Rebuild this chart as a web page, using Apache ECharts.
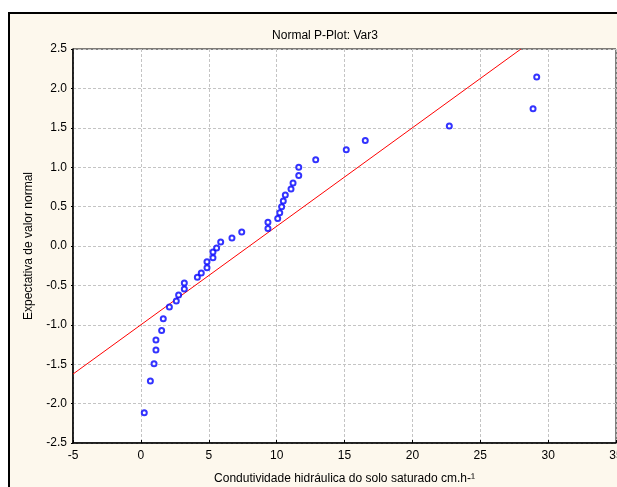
<!DOCTYPE html>
<html>
<head>
<meta charset="utf-8">
<script src="https://cdn.jsdelivr.net/npm/echarts@6/dist/echarts.min.js"></script>
<style>
  html, body { margin: 0; padding: 0; background: #ffffff; }
  #chart { width: 617px; height: 487px; }
</style>
</head>
<body>
<div id="chart"></div>
<script>
// ---- data ----
const titleText = "Normal P-Plot: Var3";
const xAxisName = "Condutividade hidráulica do solo saturado cm.h-¹";
const yAxisName = "Expectativa de valor normal";

// observed values (x) and expected normal values (y)
const obsX = [0.25, 0.70, 0.97, 1.11, 1.11, 1.53, 1.65, 2.10, 2.61, 2.78, 3.20, 3.20,
              4.16, 4.45, 4.87, 4.87, 5.31, 5.31, 5.58, 5.88, 6.71, 7.43,
              9.36, 9.36,
              10.08, 10.23, 10.37, 10.49, 10.64, 11.06, 11.21, 11.63, 11.63,
              12.88, 15.13, 16.53, 22.72, 28.89, 29.16];
const expY = [-2.115, -1.713, -1.494, -1.320, -1.193, -1.071, -0.923, -0.774, -0.698, -0.622, -0.546, -0.469,
              -0.398, -0.343, -0.275, -0.199, -0.148, -0.076, -0.025, 0.051, 0.102, 0.178,
              0.223, 0.300,
              0.350, 0.423, 0.499, 0.571, 0.647, 0.723, 0.799, 0.896, 0.998,
              1.095, 1.222, 1.340, 1.523, 1.742, 2.145];

// reference (fitted) line end points
const refLineX = [-5, 28];
const refLineY = [-1.625, 2.5];

// axis ticks
const xTicks = [-5, 0, 5, 10, 15, 20, 25, 30, 35];
const yTicks = [-2.5, -2.0, -1.5, -1.0, -0.5, 0.0, 0.5, 1.0, 1.5, 2.0, 2.5];

// ---- chart ----
const font = "'Liberation Sans', Arial, sans-serif";
const chart = echarts.init(document.getElementById('chart'), null, { renderer: 'canvas' });

const scatterData = obsX.map((x, i) => [x, expY[i]]);
const lineData = refLineX.map((x, i) => [x, refLineY[i]]);

chart.setOption({
  animation: false,
  backgroundColor: '#ffffff',
  graphic: [{
    type: 'rect',
    z: -10,
    shape: { x: 9, y: 13, width: 650, height: 520 },
    style: { fill: '#fdf8ed', stroke: '#000000', lineWidth: 2 }
  }],
  title: {
    text: titleText,
    left: 320,
    top: 25,
    textAlign: 'center',
    textStyle: { fontFamily: font, fontSize: 12, fontWeight: 'normal', color: '#000' }
  },
  grid: {
    left: 73, top: 49, width: 543, height: 394,
    containLabel: false,
    outerBoundsMode: 'none',
    show: true, backgroundColor: '#ffffff', borderColor: '#000000', borderWidth: 1
  },
  xAxis: {
    type: 'value',
    min: xTicks[0], max: xTicks[xTicks.length - 1], interval: 5,
    name: xAxisName, nameLocation: 'middle', nameGap: 30,
    nameTextStyle: { fontFamily: font, fontSize: 12, color: '#000' },
    axisLine: { show: true, onZero: false, lineStyle: { color: '#000', width: 1.5 } },
    axisTick: { show: true, inside: true, length: 3, lineStyle: { color: '#000' } },
    axisLabel: { fontFamily: font, fontSize: 12, color: '#000', margin: 7, showMaxLabel: true },
    splitLine: { show: true, lineStyle: { color: '#c4c4c4', type: [3, 2], width: 1 } }
  },
  yAxis: {
    type: 'value',
    min: yTicks[0], max: yTicks[yTicks.length - 1], interval: 0.5,
    name: yAxisName, nameLocation: 'middle', nameGap: 38, nameRotate: 90,
    nameTextStyle: { fontFamily: font, fontSize: 12, color: '#000' },
    axisLine: { show: true, onZero: false, lineStyle: { color: '#000', width: 1.5 } },
    axisTick: { show: true, inside: false, length: 2, lineStyle: { color: '#000' } },
    axisLabel: { fontFamily: font, fontSize: 12, color: '#000', margin: 6,
                 formatter: v => v.toFixed(1) },
    splitLine: { show: true, lineStyle: { color: '#c4c4c4', type: [3, 2], width: 1 } }
  },
  series: [
    {
      type: 'line',
      data: lineData,
      symbol: 'none',
      clip: true,
      lineStyle: { color: '#ff0000', width: 1 },
      z: 2
    },
    {
      type: 'scatter',
      data: scatterData,
      symbol: 'emptyCircle',
      symbolSize: 5,
      itemStyle: { color: '#0000ff', borderColor: '#0000ff', borderWidth: 1 },
      z: 3
    }
  ]
});
</script>
</body>
</html>
